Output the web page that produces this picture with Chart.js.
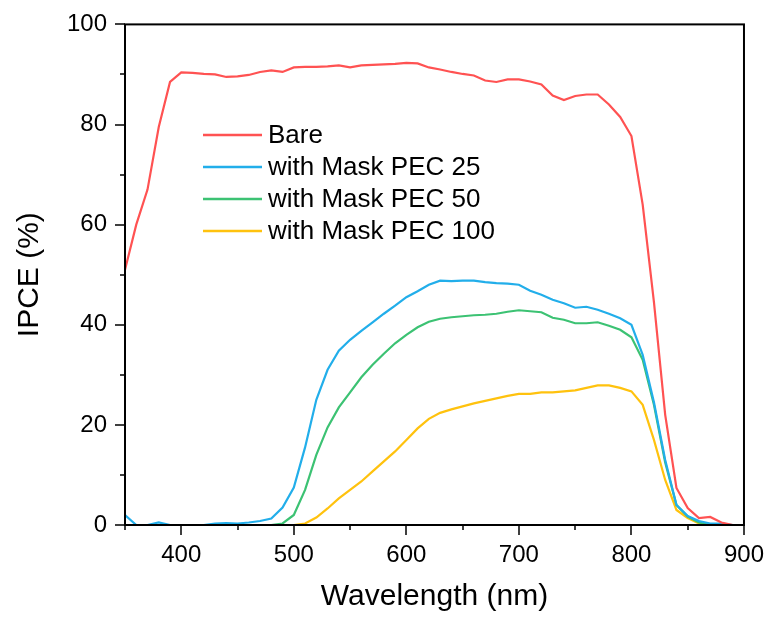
<!DOCTYPE html>
<html>
<head>
<meta charset="utf-8">
<script src="https://cdn.jsdelivr.net/npm/chart.js@4.4.1/dist/chart.umd.min.js"></script>
<style>
  html, body { margin: 0; padding: 0; background: #fff; }
  #wrap { width: 772px; height: 619px; }
</style>
</head>
<body>
<div id="wrap"><canvas id="c" width="772" height="619"></canvas></div>
<script>
const wavelengths = [350, 360, 370, 380, 390, 400, 410, 420, 430, 440, 450, 460, 470, 480, 490,
  500, 510, 520, 530, 540, 550, 560, 570, 580, 590, 600, 610, 620, 630, 640, 650, 660, 670, 680,
  690, 700, 710, 720, 730, 740, 750, 760, 770, 780, 790, 800, 810, 820, 830, 840, 850, 860, 870,
  880, 890]

const bare = [51, 60, 67, 79.5, 88.5, 90.4, 90.3, 90.1, 90, 89.5, 89.6, 89.9, 90.5, 90.8, 90.5,
  91.4, 91.5, 91.5, 91.6, 91.8, 91.4, 91.8, 91.9, 92, 92.1, 92.3, 92.2, 91.4, 91, 90.5, 90.1, 89.8,
  88.8, 88.5, 89, 89, 88.6, 88, 85.8, 84.9, 85.7, 86, 86, 84, 81.5, 77.7, 64, 44.5, 22, 7.4, 3.4,
  1.4, 1.6, 0.5, 0]

const pec25 = [2, 0, 0, 0.5, 0, 0, 0, 0, 0.3, 0.4, 0.3, 0.5, 0.8, 1.3, 3.5,
  7.5, 15.5, 25, 31, 34.8, 37, 38.8, 40.5, 42.2, 43.8, 45.5, 46.7, 48, 48.8, 48.7, 48.8, 48.8,
  48.5, 48.3, 48.2, 48, 46.8, 46, 45, 44.3, 43.4, 43.6, 43, 42.2, 41.3, 40, 34, 24.5, 13, 4, 1.8,
  0.8, 0.3, 0.3, 0]

const pec50 = [0, 0, 0, 0, 0, 0, 0, 0, 0, 0, 0, 0, 0, 0, 0.3,
  2, 7, 14, 19.5, 23.5, 26.5, 29.5, 32, 34.2, 36.3, 38, 39.5, 40.6, 41.2, 41.5, 41.7, 41.9,
  42, 42.2, 42.6, 42.9, 42.7, 42.5, 41.4, 41, 40.3, 40.3, 40.5, 39.8, 39, 37.5, 33, 24, 12.5, 4,
  1.7, 0.5, 0, 0, 0]

const pec100 = [0, 0, 0, 0, 0, 0, 0, 0, 0, 0, 0, 0, 0, 0, 0,
  0, 0.3, 1.5, 3.3, 5.3, 7, 8.7, 10.7, 12.7, 14.7, 17, 19.3, 21.2, 22.4, 23.1, 23.7, 24.3,
  24.8, 25.3, 25.8, 26.2, 26.2, 26.5, 26.5, 26.7, 26.9, 27.4, 27.9, 27.9, 27.4, 26.7, 24, 17, 9, 3,
  1.4, 0.3, 0, 0, 0]

const seriesNames = ["Bare", "with Mask PEC 25", "with Mask PEC 50", "with Mask PEC 100"]
const seriesColors = ["#ff5252", "#22aeea", "#3cc273", "#ffc20e"]
const xTickLabels = [400, 500, 600, 700, 800, 900]
const yTickLabels = [0, 20, 40, 60, 80, 100]

const FONT = "'Liberation Sans', Arial, sans-serif"

const toPoints = (ys) => ys.map((y, i) => ({ x: wavelengths[i], y }))

// frame, major/minor ticks and the in-plot legend
const framePlugin = {
  id: 'frame',
  afterDraw(chart) {
    const ctx = chart.ctx
    const { left, right, top, bottom } = chart.chartArea
    const xs = chart.scales.x
    const ys = chart.scales.y

    ctx.save()
    ctx.strokeStyle = "#000"
    ctx.lineWidth = 2
    ctx.strokeRect(left, top, right - left, bottom - top)

    ctx.lineWidth = 1.5
    ctx.beginPath()
    for (let v = 350; v <= 900; v += 50) {
      const px = Math.round(xs.getPixelForValue(v))
      const len = xTickLabels.includes(v) ? 10 : 5
      ctx.moveTo(px, bottom)
      ctx.lineTo(px, bottom + len)
    }
    for (let v = 0; v <= 100; v += 10) {
      const py = Math.round(ys.getPixelForValue(v))
      const len = yTickLabels.includes(v) ? 10 : 5
      ctx.moveTo(left, py)
      ctx.lineTo(left - len, py)
    }
    ctx.stroke()

    // legend
    ctx.font = "26px " + FONT
    ctx.textBaseline = "middle"
    ctx.textAlign = "left"
    const lx0 = 203, lx1 = 262, tx = 268
    const rows = [135, 167, 199, 231]
    seriesNames.forEach((name, i) => {
      ctx.strokeStyle = seriesColors[i]
      ctx.lineWidth = 2.5
      ctx.beginPath()
      ctx.moveTo(lx0, rows[i])
      ctx.lineTo(lx1, rows[i])
      ctx.stroke()
      ctx.fillStyle = "#000"
      ctx.fillText(name, tx, rows[i] + 1)
    })
    ctx.restore()
  }
}

new Chart(document.getElementById("c"), {
  type: "line",
  data: {
    datasets: [bare, pec25, pec50, pec100].map((ys, i) => ({
      label: seriesNames[i],
      data: toPoints(ys),
      borderColor: seriesColors[i],
      backgroundColor: seriesColors[i],
      borderWidth: 2.2,
      pointRadius: 0,
      tension: 0,
      fill: false
    }))
  },
  options: {
    responsive: false,
    animation: false,
    layout: { padding: { top: 19, right: 19, left: 0, bottom: 0 } },
    plugins: {
      legend: { display: false },
      tooltip: { enabled: false }
    },
    scales: {
      x: {
        type: "linear",
        min: 350,
        max: 900,
        afterFit: (s) => { s.height = 94 },
        grid: { display: false },
        border: { display: false },
        ticks: {
          stepSize: 50,
          autoSkip: false,
          maxRotation: 0,
          padding: 8,
          color: "#000",
          font: { family: FONT, size: 24 },
          callback: (v) => xTickLabels.includes(v) ? String(v) : ""
        },
        title: {
          display: true,
          text: "Wavelength (nm)",
          color: "#000",
          font: { family: FONT, size: 30 },
          padding: { top: 0, bottom: 4 }
        }
      },
      y: {
        min: 0,
        max: 100,
        afterFit: (s) => { s.width = 125 },
        grid: { display: false },
        border: { display: false },
        ticks: {
          stepSize: 10,
          autoSkip: false,
          padding: 10,
          color: "#000",
          font: { family: FONT, size: 24 },
          callback: (v) => yTickLabels.includes(v) ? String(v) : ""
        },
        title: {
          display: true,
          text: "IPCE (%)",
          color: "#000",
          font: { family: FONT, size: 30 },
          padding: { top: 12, bottom: 0 }
        }
      }
    }
  },
  plugins: [framePlugin]
})
</script>
</body>
</html>
